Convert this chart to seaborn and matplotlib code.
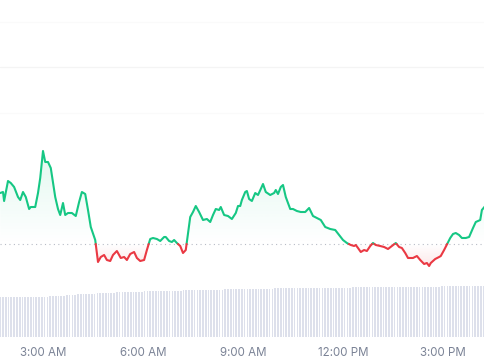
import numpy as np
import pandas as pd
import matplotlib
matplotlib.use("Agg")
import matplotlib.pyplot as plt
from matplotlib.path import Path
import seaborn as sns

sns.set_theme(style="white")
plt.rcParams['font.family'] = ['Inter', 'DejaVu Sans']

# ---- data (minutes after midnight, price units) ----
minutes = [103, 108, 110, 117, 122, 128, 135, 139, 144, 149, 155, 158, 166, 171, 175,
           180, 184, 189, 194, 202, 207, 211, 216, 220, 225, 232, 239, 245, 250, 256,
           261, 266, 274, 279, 284, 290, 295, 301, 306, 313, 317, 320, 326, 331, 337,
           344, 349, 355, 362, 367, 373, 378, 385, 391, 398, 401, 407, 412, 416, 421,
           427, 432, 437, 445, 450, 455, 461, 468, 475, 481, 486, 491, 497, 500, 506,
           513, 520, 527, 531, 535, 538, 544, 547, 551, 556, 562, 567, 572, 576, 581,
           589, 596, 599, 603, 608, 612, 617, 625, 630, 637, 644, 652, 659, 666, 673,
           680, 688, 697, 706, 713, 720, 727, 734, 740, 743, 747, 752, 758, 763, 769,
           774, 779, 787, 794, 801, 808, 815, 821, 826, 832, 837, 846, 853, 859, 866,
           871, 875, 878, 886, 893, 896, 902, 913, 918, 923, 929, 934, 941, 947, 954,
           959, 967, 970, 976]
price = [167, 168, 159, 179, 177, 173, 163, 160, 168, 163, 151, 153, 153, 167, 182,
         209, 198, 198, 192, 163, 151, 145, 157, 145, 147, 147, 144, 158, 168, 166,
         150, 133, 120, 98, 103, 105, 100, 99, 105, 109, 105, 102, 103, 100, 106,
         108, 102, 99, 100, 110, 121, 122, 121, 119, 123, 123, 119, 118, 120, 117,
         114, 107, 110, 143, 148, 154, 148, 140, 141, 138, 145, 151, 150, 153, 145,
         144, 141, 147, 154, 154, 160, 168, 169, 161, 159, 167, 165, 171, 176, 168,
         165, 167, 170, 166, 173, 175, 163, 151, 151, 149, 148, 148, 152, 144, 142,
         140, 133, 131, 130, 125, 120, 117, 115, 114, 115, 112, 108, 110, 109, 114,
         117, 115, 114, 113, 111, 114, 117, 113, 112, 107, 102, 102, 104, 100, 96,
         97, 94, 97, 101, 103, 104, 110, 122, 126, 127, 125, 122, 122, 123, 132,
         138, 140, 150, 154]
baseline = 116

vol_start = 103
vol_step = 5
volume = [40, 40, 40, 40, 40, 40, 40, 40, 40, 40,
          40, 40, 40.5, 40.5, 40.5, 40.5, 40.5, 40.5, 41, 41,
          41, 41, 41.5, 41.5, 42, 42, 42, 42.5, 43, 43,
          43, 43, 43.5, 43.5, 43.5, 44, 44, 44, 44, 44.5,
          44.5, 44.5, 45, 45, 45, 45, 45, 45, 45.5, 45.5,
          45.5, 45.5, 46, 46, 46, 46, 46, 46, 46, 46,
          46, 46.5, 46.5, 46.5, 46.5, 46.5, 47, 47, 47, 47,
          47, 47, 47, 47, 47, 47.5, 47.5, 47.5, 47.5, 47.5,
          47.5, 48, 48, 48, 48, 48, 48, 48, 48, 48,
          48, 48.5, 48.5, 48.5, 48.5, 48.5, 48.5, 48.5, 48.5, 49,
          49, 49, 49, 49, 49, 49, 49, 49, 49, 49,
          49, 49, 49.5, 49.5, 49.5, 49.5, 49.5, 49.5, 49.5, 49.5,
          49.5, 49.5, 49.5, 49.5, 49.5, 49.5, 49.5, 50, 50, 50,
          50, 50, 50, 50, 50, 50, 50, 50, 50, 50,
          50, 50, 50, 50, 50, 50, 50, 50.5, 50.5, 50.5,
          50.5, 50.5, 50.5, 50.5, 50.5, 50.5, 50.5, 50.5, 50.5, 51,
          51, 51, 51, 51, 51, 51, 51, 51, 51, 51,
          51, 51, 51, 51, 51]

tick_minutes = [180, 360, 540, 720, 900]
tick_labels = ["3:00 AM", "6:00 AM", "9:00 AM", "12:00 PM", "3:00 PM"]

GREEN = "#16c784"
RED = "#ea3943"

# ---- build segments split at the baseline ----
t = np.array(minutes, float)
p = np.array(price, float)
rows = []
seg = 0
side = "up" if p[0] >= baseline else "down"
rows.append((t[0], p[0], side, seg))
for i in range(1, len(t)):
    s = "up" if p[i] >= baseline else "down"
    if s != side:
        f = (baseline - p[i - 1]) / (p[i] - p[i - 1])
        tc = t[i - 1] + f * (t[i] - t[i - 1])
        rows.append((tc, baseline, side, seg))
        seg += 1
        side = s
        rows.append((tc, baseline, side, seg))
    rows.append((t[i], p[i], side, seg))
df = pd.DataFrame(rows, columns=["t", "p", "side", "seg"])

vol_t = [vol_start + vol_step * i for i in range(len(volume))]
dfv = pd.DataFrame({"t": vol_t, "v": volume})

# ---- figure ----
fig = plt.figure(figsize=(4.85, 3.6), dpi=100)
fig.patch.set_facecolor("white")
rect = [0, 23 / 360, 1, 337 / 360]
ax_v = fig.add_axes(rect)
ax = fig.add_axes(rect, sharex=ax_v)
ax.patch.set_alpha(0)

xmin, xmax = 102.6, 975.6

# volume bars
sns.barplot(data=dfv, x="t", y="v", native_scale=True, color="#dde0eb",
            width=0.6, saturation=1, linewidth=0, ax=ax_v)
ax_v.set_ylim(0, 337)
ax_v.set_xlim(xmin, xmax)

# gridlines
for gy, gc in [(338, "#fafafa"), (293, "#f4f4f4"), (247, "#fafafa")]:
    ax.axhline(gy, color=gc, lw=0.9, zorder=0)

# gradient fills
tt = df["t"].values
pp = df["p"].values
ylo, yhi = 23, 360
ax.set_ylim(ylo, yhi)

def grad_fill(where, rgb, a_top, a_bot, y0, y1):
    pc = ax.fill_between(tt, pp, baseline, where=where, interpolate=True,
                         color="none", lw=0)
    paths = pc.get_paths()
    if not paths:
        return
    clip = Path.make_compound_path(*paths)
    n = 256
    alphas = np.linspace(a_top, a_bot, n)
    img = np.zeros((n, 1, 4))
    img[..., :3] = rgb
    img[:, 0, 3] = alphas
    im = ax.imshow(img, extent=[xmin, xmax, y0, y1], origin="upper",
                   aspect="auto", zorder=1, interpolation="bilinear")
    im.set_clip_path(clip, transform=ax.transData)

g = matplotlib.colors.to_rgb(GREEN)
r = matplotlib.colors.to_rgb(RED)
grad_fill(pp >= baseline, g, 0.13, 0.0, baseline, 215)
grad_fill(pp <= baseline, r, 0.0, 0.14, 90, baseline)

# baseline dotted
ax.axhline(baseline, color="#b8bcc6", lw=0.8, ls=(0, (1, 3)), zorder=2)

# price line
sns.lineplot(data=df, x="t", y="p", hue="side", units="seg", estimator=None,
             palette={"up": GREEN, "down": RED}, lw=1.5, legend=False, ax=ax,
             zorder=3)
ax.set_xlim(xmin, xmax)
ax.set_ylim(ylo, yhi)

for a in (ax, ax_v):
    for s in a.spines.values():
        s.set_visible(False)
    a.set_xlabel("")
    a.set_ylabel("")
    a.set_yticks([])

ax.tick_params(axis="x", which="both", bottom=False, labelbottom=False)
ax_v.set_xticks(tick_minutes)
ax_v.set_xticklabels(tick_labels)
ax_v.tick_params(axis="x", length=0, pad=7, labelsize=8.3, labelcolor="#7b8396")

fig.savefig("out.png", dpi=100, facecolor="white")
